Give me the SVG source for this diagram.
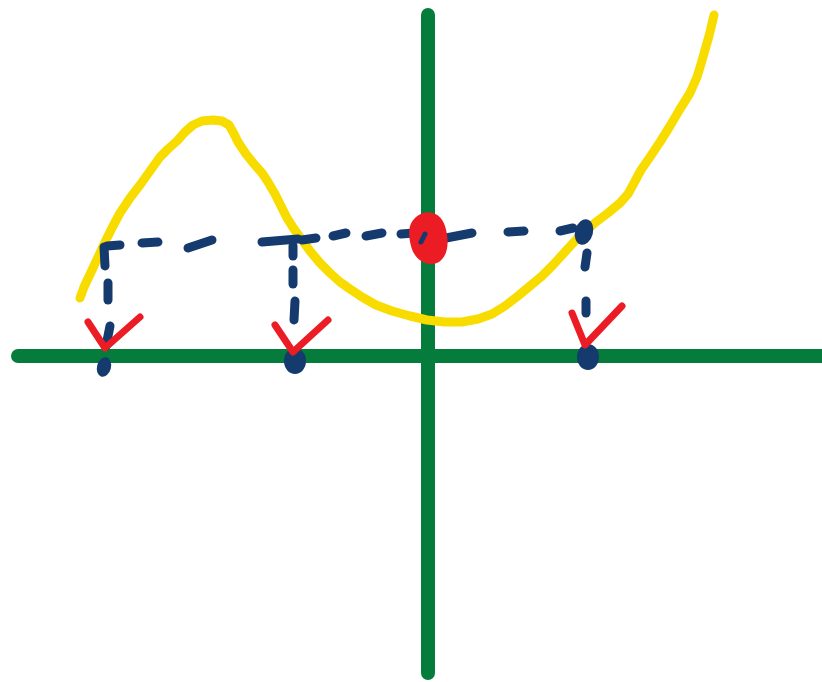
<svg xmlns="http://www.w3.org/2000/svg" width="822" height="682" viewBox="0 0 822 682">
<style>
.axis{stroke:#067c3c;stroke-width:14;stroke-linecap:round;fill:none}
.curve{stroke:#f8dc00;stroke-width:9;stroke-linecap:round;stroke-linejoin:round;fill:none}
.dash{stroke:#143a6e;stroke-width:9;stroke-linecap:round;fill:none}
.dot{fill:#143a6e}
.check{stroke:#ec1c24;stroke-width:7;stroke-linecap:round;stroke-linejoin:round;fill:none}
</style>
<rect width="822" height="682" fill="#ffffff"/>
<g id="axes">
<path class="axis" d="M18 356 L822 356"/>
<path class="axis" d="M428 15 L428 673"/>
</g>
<g id="curve">
<path class="curve" d="M80 298 L84 287 L92 270 L100 253 L106 240 L113 226 L120 213 L130 198 L140 185 L150 171 L160 157 L168 149 L177 141 L185 132 L193 125 L202 121 L213 120 L222 121 L229 125 L233 132 L238 142 L246 154 L254 164 L262 173 L268 182 L275 194 L281 206 L287 218 L294 229 L302 240 L310 251 L320 263 L330 273 L340 282 L350 289 L362 297 L376 305 L392 311 L410 316 L427 320 L445 322 L462 322 L478 319 L492 314 L505 306 L518 296 L530 286 L542 276 L553 265 L563 254 L574 242 L585 231 L596 222 L608 213 L620 203 L628 194 L634 183 L641 170 L650 157 L660 142 L670 126 L680 109 L690 93 L697 77 L701 64 L705 50 L709 36 L714 15"/>
</g>
<g id="connectors">
<path class="dash" d="M107 246 L120 245"/>
<path class="dash" d="M142 243 L158 242"/>
<path class="dash" d="M188 248 L212 240"/>
<path class="dash" d="M262 242 L298 239"/>
<path class="dash" d="M302 240 L316 238"/>
<path class="dash" d="M333 236 L346 233"/>
<path class="dash" d="M366 236 L382 233"/>
<path class="dash" d="M401 234 L414 233"/>
<path class="dash" d="M446 238 L472 233"/>
<path class="dash" d="M508 232 L524 231"/>
<path class="dash" d="M560 231 L573 228"/>
<path class="dash" d="M104 247 L105 266"/>
<path class="dash" d="M108 283 L108 300"/>
<path class="dash" d="M110 326 L106 346"/>
<path class="dash" d="M293 246 L293 256"/>
<path class="dash" d="M293 270 L293 284"/>
<path class="dash" d="M295 301 L294 320"/>
<path class="dash" d="M587 253 L585 267"/>
<path class="dash" d="M586 301 L586 313"/>
</g>
<g id="red-point">
<path d="M416 217 C426 208 441 212 445 226 C450 242 448 258 437 263 C426 267 414 259 411 246 C408 234 408 224 416 217 Z" fill="#ec1c24"/>
<path d="M421 242 L425 234" stroke="#143a6e" stroke-width="5" stroke-linecap="round" fill="none"/>
</g>
<g id="root-1">
<ellipse class="dot" cx="104" cy="367" rx="7" ry="10" transform="rotate(15 104 367)"/>
<path class="check" d="M88 322 L105 348 L140 317"/>
</g>
<g id="root-2">
<ellipse class="dot" cx="295" cy="361" rx="11" ry="13"/>
<path class="check" d="M275 325 L293 352 L328 320"/>
</g>
<g id="root-3">
<ellipse class="dot" cx="584" cy="232" rx="9" ry="13" transform="rotate(15 584 232)"/>
<ellipse class="dot" cx="588" cy="357" rx="11" ry="13"/>
<path class="check" d="M572 313 L585 345 L622 306"/>
</g>
</svg>
